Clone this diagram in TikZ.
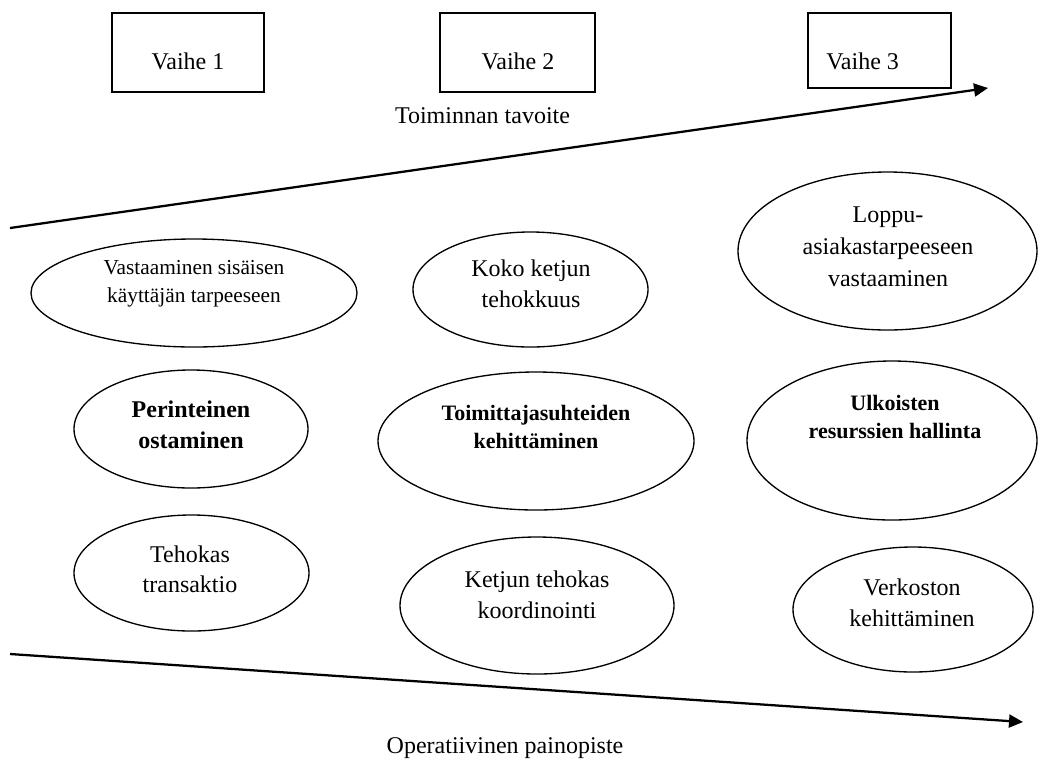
\documentclass[tikz,border=0pt]{standalone}
\usepackage{fontspec}
\setmainfont{Liberation Serif}
\usetikzlibrary{shapes.geometric,arrows.meta}
\begin{document}
\begin{tikzpicture}[x=0.75pt,y=-0.75pt,
  phasebox/.style 2 args={draw,line width=1.5pt,inner sep=0pt,
    minimum width=#1*0.75pt,minimum height=#2*0.75pt},
  oval/.style 2 args={ellipse,draw,line width=1pt,inner sep=0pt,
    minimum width=#1*0.75pt,minimum height=#2*0.75pt},
  lab/.style 2 args={inner sep=0pt,align=center,font=\fontsize{#1}{#2}\selectfont},
  axis/.style={line width=1.7pt,-{Triangle[length=10.5pt,width=9.75pt]}}]
\useasboundingbox (0,0) rectangle (1038,758);

% phase boxes
\node[phasebox={152}{79}] (b1) at (188,52.5) {};
\node[phasebox={155}{79}] (b2) at (517.5,52.5) {};
\node[phasebox={143}{75}] (b3) at (879.5,50.5) {};
\node[lab={18pt}{22pt},anchor=base] (v1) at (188,69) {Vaihe 1};
\node[lab={18pt}{22pt},anchor=base] (v2) at (518,69) {Vaihe 2};
\node[lab={18pt}{22pt},anchor=base west] (v3) at (826,69) {Vaihe 3};

% trend arrows
\coordinate (upS) at (10,228);
\coordinate (upE) at (988,88);
\coordinate (loS) at (10,654);
\coordinate (loE) at (1023,722);
\draw[axis] (upS) -- (upE);
\draw[axis] (loS) -- (loE);
\node[lab={18pt}{22pt},anchor=base] (goal) at (482.5,123) {Toiminnan tavoite};
\node[lab={18pt}{22pt},anchor=base] (focus) at (505,753) {Operatiivinen painopiste};

% ellipses
\node[oval={326}{108}] (e1) at (194,293) {};
\node[oval={235}{115}] (e2) at (530.5,289.5) {};
\node[oval={299}{158}] (e3) at (887.5,251) {};
\node[oval={234}{118}] (e4) at (191,429) {};
\node[oval={316}{138}] (e5) at (536,441) {};
\node[oval={290}{159}] (e6) at (892,440.5) {};
\node[oval={235}{116}] (e7) at (191.5,573) {};
\node[oval={274}{137}] (e8) at (537,605.5) {};
\node[oval={240}{125}] (e9) at (913,609.5) {};

% ellipse texts
\node[lab={16pt}{21pt}] (t1) at (194,284) {Vastaaminen sisäisen\\käyttäjän tarpeeseen};
\node[lab={18pt}{23.25pt}] (t2) at (531,283.5) {Koko ketjun\\tehokkuus};
\node[lab={18pt}{24pt}] (t3) at (888,247) {Loppu-\\asiakastarpeeseen\\vastaaminen};
\node[lab={18pt}{23.25pt},font=\fontsize{18pt}{23.25pt}\selectfont\bfseries] (t4) at (191,424.5) {Perinteinen\\ostaminen};
\node[lab={16.5pt}{21pt},font=\fontsize{16.5pt}{21pt}\selectfont\bfseries] (t5) at (536,426.5) {Toimittajasuhteiden\\kehittäminen};
\node[lab={16.5pt}{21pt},font=\fontsize{16.5pt}{21pt}\selectfont\bfseries] (t6) at (895,416.5) {Ulkoisten\\resurssien hallinta};
\node[lab={18pt}{22.5pt}] (t7) at (190,569) {Tehokas\\transaktio};
\node[lab={18pt}{23.25pt}] (t8) at (537,594.5) {Ketjun tehokas\\koordinointi};
\node[lab={18pt}{23.25pt}] (t9) at (912,602.5) {Verkoston\\kehittäminen};
\end{tikzpicture}
\end{document}
